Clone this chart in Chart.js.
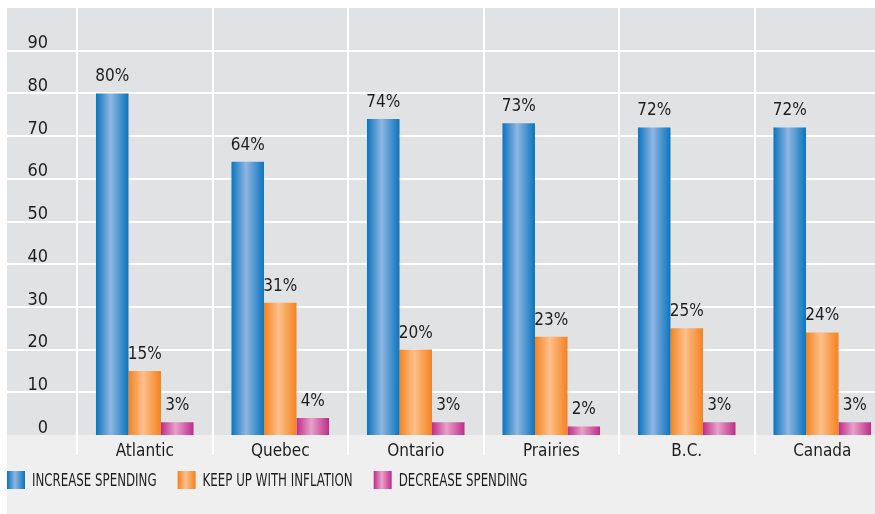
<!DOCTYPE html>
<html>
<head>
<meta charset="utf-8">
<script src="https://cdn.jsdelivr.net/npm/chart.js@4.4.0/dist/chart.umd.min.js"></script>
<style>
  html, body { margin: 0; padding: 0; background: #fff; overflow: hidden; }
  #wrap { width: 890px; height: 514px; position: relative; }
</style>
</head>
<body>
<div id="wrap"><canvas id="chart"></canvas></div>
<script>
const categories = ["Atlantic", "Quebec", "Ontario", "Prairies", "B.C.", "Canada"];
const seriesNames = ["INCREASE SPENDING", "KEEP UP WITH INFLATION", "DECREASE SPENDING"];
const increaseSpending = [80, 64, 74, 73, 72, 72];
const keepUpWithInflation = [15, 31, 20, 23, 25, 24];
const decreaseSpending = [3, 4, 3, 2, 3, 3];
const yTicks = [0, 10, 20, 30, 40, 50, 60, 70, 80, 90];

// edge colour, centre highlight
const shades = [
  ["#0b74be", "#8fb6e2"],
  ["#f5821f", "#fcc08d"],
  ["#c02c89", "#e6a2c9"]
];

const fontFam = "'Liberation Sans Narrow', 'DejaVu Sans Condensed', 'Roboto Condensed', sans-serif";
const textColor = "#1e1e1e";

function shadeGradient(ctx, x0, x1, i) {
  const g = ctx.createLinearGradient(x0, 0, x1, 0);
  g.addColorStop(0, shades[i][0]);
  g.addColorStop(0.45, shades[i][1]);
  g.addColorStop(1, shades[i][0]);
  return g;
}

// grey panels + horizontal white lines
const backdrop = {
  id: "backdrop",
  beforeDraw(chart) {
    const { ctx, chartArea, width, height } = chart;
    const y = chart.scales.y;
    ctx.save();
    ctx.fillStyle = "#efefef";
    ctx.fillRect(7, chartArea.bottom, width - 7, height - chartArea.bottom);
    ctx.fillStyle = "#e1e2e4";
    ctx.fillRect(7, chartArea.top, width - 7, chartArea.bottom - chartArea.top);
    ctx.strokeStyle = "#ffffff";
    ctx.lineWidth = 2;
    yTicks.forEach(v => {
      if (v === 0) return;
      const py = Math.round(y.getPixelForValue(v));
      ctx.beginPath();
      ctx.moveTo(7, py);
      ctx.lineTo(width, py);
      ctx.stroke();
    });
    ctx.restore();
  }
};

// cylinder shading on bars and % labels above them
const barShade = {
  id: "barShade",
  beforeDatasetsDraw(chart) {
    const ctx = chart.ctx;
    chart.data.datasets.forEach((ds, i) => {
      chart.getDatasetMeta(i).data.forEach(bar => {
        const g = shadeGradient(ctx, bar.x - bar.width / 2, bar.x + bar.width / 2, i);
        // own copy per bar, the resolved options are shared
        bar.options = Object.assign({}, bar.options, { backgroundColor: g });
      });
    });
  },
  afterDatasetsDraw(chart) {
    const ctx = chart.ctx;
    ctx.save();
    ctx.font = "17px " + fontFam;
    ctx.fillStyle = textColor;
    ctx.textAlign = "center";
    ctx.textBaseline = "bottom";
    chart.data.datasets.forEach((ds, i) => {
      chart.getDatasetMeta(i).data.forEach((bar, j) => {
        ctx.fillText(ds.data[j] + "%", bar.x, bar.y - 8);
      });
    });
    ctx.restore();
  }
};

// legend along the bottom with shaded swatches
const bottomLegend = {
  id: "bottomLegend",
  afterDraw(chart) {
    const ctx = chart.ctx;
    const top = 471;
    const sx = 0.73;
    let x = 7;
    ctx.save();
    ctx.font = "18px " + fontFam;
    ctx.textBaseline = "middle";
    seriesNames.forEach((name, i) => {
      ctx.fillStyle = shadeGradient(ctx, x, x + 18, i);
      ctx.fillRect(x, top, 18, 18);
      const tw = ctx.measureText(name).width * sx;
      ctx.save();
      ctx.translate(x + 25, top + 10);
      ctx.scale(sx, 1);
      ctx.fillStyle = textColor;
      ctx.fillText(name, 0, 0);
      ctx.restore();
      x += 25 + tw + 21;
    });
    ctx.restore();
  }
};

new Chart(document.getElementById("chart"), {
  type: "bar",
  data: {
    labels: categories,
    datasets: [
      { label: seriesNames[0], data: increaseSpending, backgroundColor: shades[0][0] },
      { label: seriesNames[1], data: keepUpWithInflation, backgroundColor: shades[1][0] },
      { label: seriesNames[2], data: decreaseSpending, backgroundColor: shades[2][0] }
    ]
  },
  options: {
    responsive: true,
    maintainAspectRatio: false,
    animation: false,
    layout: { padding: { left: 7, top: 8, bottom: 43, right: 0 } },
    datasets: { bar: { categoryPercentage: 0.72, barPercentage: 1.0 } },
    plugins: {
      legend: { display: false },
      tooltip: { enabled: false }
    },
    scales: {
      x: {
        grid: { display: true, offset: true, color: "#ffffff", lineWidth: 2, tickLength: 20, drawTicks: true },
        border: { display: false },
        ticks: { color: textColor, font: { family: fontFam, size: 17 }, padding: -14 },
        afterFit(s) { s.height = 36; }
      },
      y: {
        min: 0,
        max: 100,
        grid: { display: false, drawTicks: false },
        border: { display: false },
        ticks: {
          stepSize: 10,
          color: textColor,
          font: { family: fontFam, size: 18 },
          padding: 29,
          labelOffset: -7,
          callback: v => (yTicks.includes(v) ? v : "")
        },
        afterFit(s) {
          s.width = 70;
          s.paddingTop = 0;
          s.paddingBottom = 0;
        }
      }
    }
  },
  plugins: [backdrop, barShade, bottomLegend]
});
</script>
</body>
</html>
